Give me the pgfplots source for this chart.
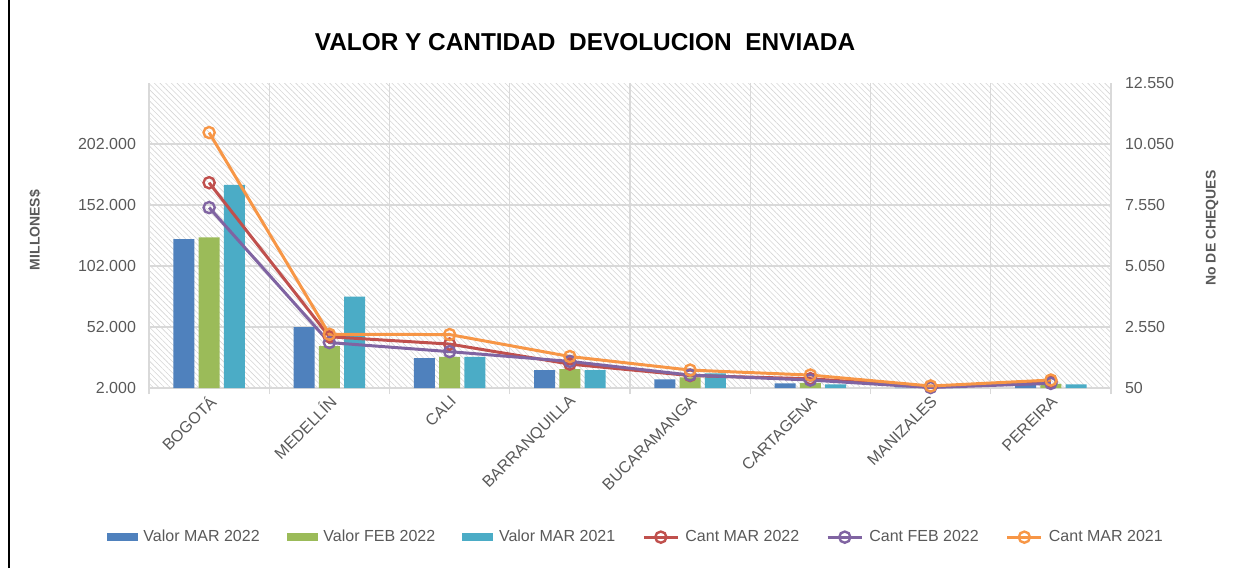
\documentclass[border=0pt]{standalone}
\usepackage{fontspec}
\setmainfont{Liberation Sans}
\usepackage{pgfplots}
\usepackage{pgfplotstable}
\pgfplotsset{compat=1.18}
\usetikzlibrary{patterns.meta}

\definecolor{cblue}{HTML}{4F81BD}
\definecolor{cgreen}{HTML}{9BBB59}
\definecolor{cteal}{HTML}{4BACC6}
\definecolor{cred}{HTML}{C0504D}
\definecolor{cpurple}{HTML}{8064A2}
\definecolor{corange}{HTML}{F79646}
\definecolor{gridc}{HTML}{D9D9D9}
\definecolor{txt}{HTML}{595959}

% valores en millones (eje izquierdo)
\pgfplotstableread{
idx vmar22 vfeb22 vmar21
0 124100 125400 168400
1 52000 36300 77000
2 26400 27500 27500
3 16700 17500 16700
4 9100 10700 14000
5 5800 6300 5000
6 2300 2400 2500
7 5000 5300 5000
}\valores

% cantidad de cheques (eje derecho)
\pgfplotstableread{
idx cmar22 cfeb22 cmar21
0 8463 7444 10518
1 2150 1913 2252
2 1850 1540 2240
3 1030 1140 1340
4 560 580 784
5 430 376 580
6 90 70 132
7 300 240 376
}\cantidades

\pgfplotsset{
  base/.style={
    at={(74.5pt,90pt)}, anchor=south west,
    width=481pt, height=152.5pt, scale only axis,
    xmin=-0.5, xmax=7.5,
    axis line style={draw=none},
    major tick length=0pt,
    scaled y ticks=false,
    ticklabel style={font=\fontsize{8}{9.6}\selectfont, text=txt},
    /pgf/number format/fixed,
    /pgf/number format/precision=0,
    /pgf/number format/1000 sep={.},
    /pgf/number format/assume math mode=true,
  },
  cant/.style={color=#1, line width=1.5pt, mark=o, mark size=2.8pt,
    mark options={fill=white, line width=1.2pt, draw=#1}},
}

\begin{document}
\begin{tikzpicture}
\path[use as bounding box] (0pt,0pt) rectangle (618pt,284pt);
\draw[line width=0.8pt] (4.5pt,0pt) -- (4.5pt,284pt);

\begin{axis}[base,
  ymin=2000, ymax=252000,
  axis background/.style={pattern={Lines[angle=-45,distance=2pt,line width=0.3pt]}, pattern color=gray!33},
  xtick={0,...,7},
  xticklabels={BOGOTÁ, MEDELLÍN, CALI, BARRANQUILLA, BUCARAMANGA, CARTAGENA, MANIZALES, PEREIRA},
  minor xtick={-0.5,0.5,...,7.5},
  xtick pos=bottom, tick align=outside,
  minor tick length=3pt,
  minor x tick style={draw=gridc, line width=0.6pt},
  xticklabel style={rotate=45, anchor=east, yshift=-5pt, xshift=1pt},
  ytick={2000,52000,102000,152000,202000},
  ytick pos=left,
  yticklabel style={xshift=-3pt},
  ymajorgrids, xminorgrids,
  major grid style={draw=gridc, line width=0.6pt},
  minor grid style={draw=gridc, line width=0.6pt},
]
\addplot[ybar, bar width=0.175, bar shift=-0.21, fill=cblue, draw=none] table[x=idx, y=vmar22] {\valores};
\addplot[ybar, bar width=0.175, bar shift=0, fill=cgreen, draw=none] table[x=idx, y=vfeb22] {\valores};
\addplot[ybar, bar width=0.175, bar shift=0.21, fill=cteal, draw=none] table[x=idx, y=vmar21] {\valores};
\end{axis}

\begin{axis}[base,
  ymin=50, ymax=12550,
  axis x line=none, axis y line*=right,
  ytick={50,2550,5050,7550,10050,12550},
  yticklabel style={anchor=west, xshift=3.5pt},
  legend columns=6,
  legend style={draw=none, fill=none, at={(0.507,-0.489)}, anchor=center,
    font=\fontsize{8}{9.6}\selectfont, text=txt,
    /tikz/every odd column/.append style={column sep=1pt},
    /tikz/every even column/.append style={column sep=11.5pt}},
]
\addlegendimage{legend image code/.code={\fill[cblue] (0pt,-1.75pt) rectangle (15pt,1.75pt);}}
\addlegendentry{Valor MAR 2022}
\addlegendimage{legend image code/.code={\fill[cgreen] (0pt,-1.75pt) rectangle (15pt,1.75pt);}}
\addlegendentry{Valor FEB 2022}
\addlegendimage{legend image code/.code={\fill[cteal] (0pt,-1.75pt) rectangle (15pt,1.75pt);}}
\addlegendentry{Valor MAR 2021}
\addplot[cant=cred] table[x=idx, y=cmar22] {\cantidades};
\addlegendentry{Cant MAR 2022}
\addplot[cant=cpurple] table[x=idx, y=cfeb22] {\cantidades};
\addlegendentry{Cant FEB 2022}
\addplot[cant=corange] table[x=idx, y=cmar21] {\cantidades};
\addlegendentry{Cant MAR 2021}
\end{axis}

\node[font=\bfseries\fontsize{12.2}{14}\selectfont] at (292.5pt,263pt) {VALOR Y CANTIDAD\ \ DEVOLUCION\ \ ENVIADA};
\node[rotate=90, font=\bfseries\fontsize{7}{8.4}\selectfont, text=txt] at (17.5pt,169pt) {MILLONES\$};
\node[rotate=90, font=\bfseries\fontsize{7}{8.4}\selectfont, text=txt] at (606pt,170pt) {No DE CHEQUES};
\end{tikzpicture}
\end{document}
